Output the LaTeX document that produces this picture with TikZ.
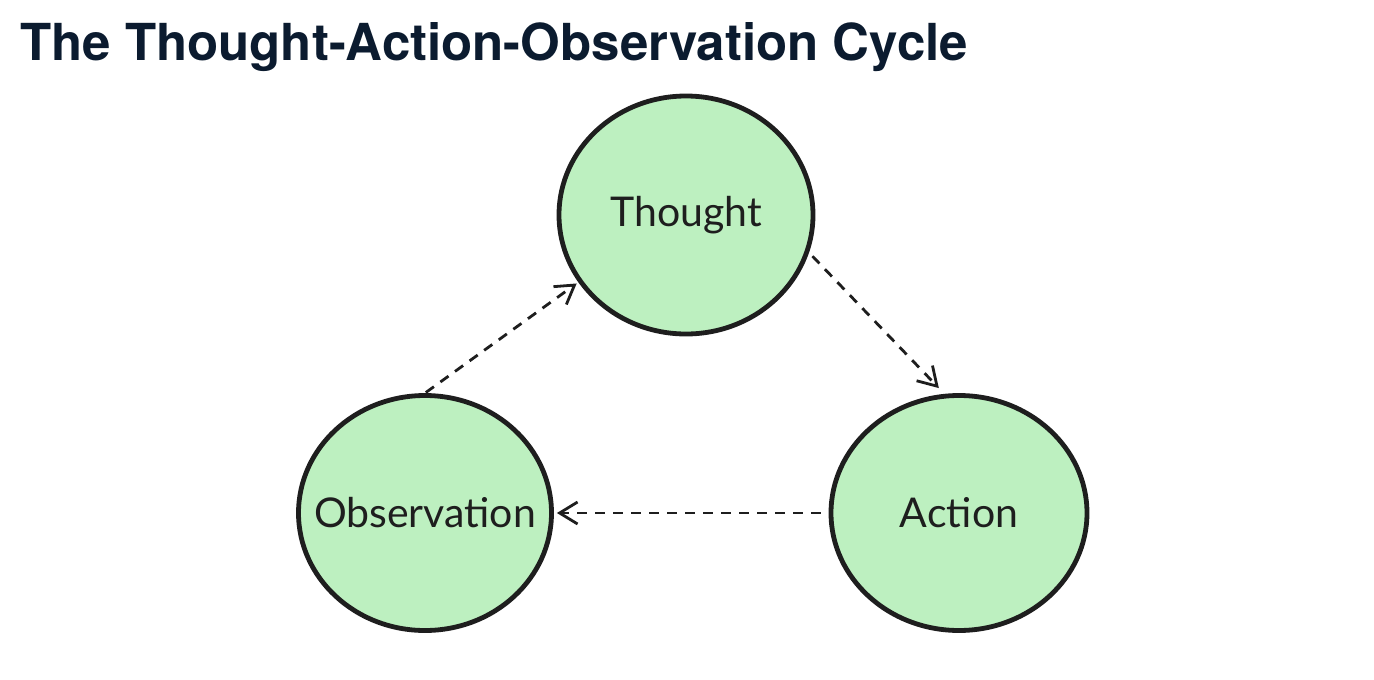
\documentclass[tikz,border=0pt]{standalone}
\usepackage{fontspec}
\setmainfont{Liberation Sans}
\newfontfamily\titlefont{TeX Gyre Heros}
\newfontfamily\handfont{Lato}
\usetikzlibrary{shapes.geometric,arrows.meta}
\definecolor{ink}{HTML}{1E1E1E}
\definecolor{navy}{HTML}{0B1B2F}
\definecolor{leaf}{HTML}{BDF0C0}
\tikzset{
  stage/.style={ellipse, draw=ink, line width=4.8pt, fill=leaf, inner sep=0pt,
    label={[text=ink, font=\handfont\fontsize{41}{48}\selectfont]center:#1}},
  flow/.style={draw=ink, line width=2.8pt, dash pattern=on 10pt off 8pt,
    -{Straight Barb[length=18pt,width=22pt,line width=2.8pt]}},
}
\begin{document}
\begin{tikzpicture}[x=1pt,y=-1pt]
\useasboundingbox (0,0) rectangle (1374,680);
\node[anchor=base west, text=navy, font=\titlefont\bfseries\fontsize{51}{56}\selectfont, inner sep=0pt] (title) at (20,60) {The Thought-Action-Observation Cycle};
\node[stage=Thought, minimum width=254pt, minimum height=238pt] (thought) at (686,215) {};
\node[stage=Observation, minimum width=253pt, minimum height=235pt] (obs) at (425,513) {};
\node[stage=Action, minimum width=256pt, minimum height=235pt] (act) at (959,513) {};
\draw[flow, shorten <=1pt, shorten >=2pt] (obs.north) -- (thought.212);
\draw[flow, shorten <=5pt, shorten >=8pt] (thought.-17) -- (act.97);
\draw[flow, shorten <=8pt, shorten >=3pt] (act.west) -- (obs.east);
\end{tikzpicture}
\end{document}
